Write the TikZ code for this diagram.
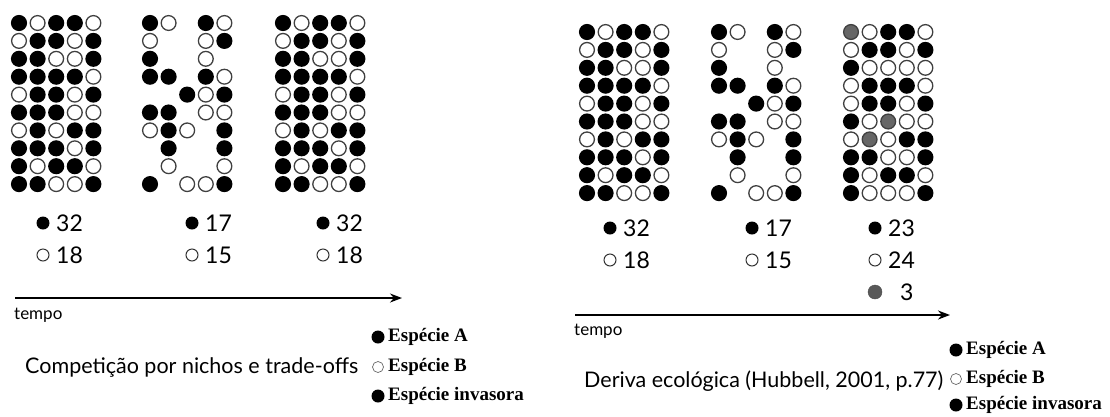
\documentclass[tikz,border=0pt]{standalone}
\usepackage{fontspec}
\usepackage{tikz}
\usetikzlibrary{arrows.meta,calc}
\newfontfamily\gill{Lato}
\newfontfamily\tnr{Liberation Serif}

% parcelas: 1 = especie A, 0 = especie B, 2 = invasora, 3 = vazio
\newcommand\nichoA{{1,0,1,1,0},{0,1,1,0,1},{1,1,0,0,1},{1,1,1,1,0},{0,1,1,0,1},
  {1,1,1,0,0},{0,1,0,1,1},{1,1,1,0,1},{1,0,1,1,0},{1,1,0,0,1}}
\newcommand\nichoB{{1,0,3,1,0},{0,3,3,0,1},{1,3,3,0,3},{1,1,3,1,0},{3,3,1,0,1},
  {1,1,3,0,0},{0,1,0,3,1},{3,1,3,3,1},{3,0,3,3,0},{1,3,0,0,1}}
\newcommand\derivaC{{2,0,1,1,0},{0,1,1,0,1},{1,0,0,0,0},{0,1,1,1,0},{0,1,1,0,1},
  {1,0,2,0,0},{0,2,0,1,1},{1,1,0,0,1},{1,0,1,1,0},{1,0,0,0,1}}

\tikzset{
  ind0/.style = {draw=black!75, fill=white, line width=1.3pt},
  ind1/.style = {draw=black, fill=black, line width=1.3pt},
  ind2/.style = {draw=black!75, fill=black!60, line width=1.3pt},
  ind3/.style = {draw=none, fill=none},
  pics/parcela/.style = {
    code = {
    \foreach \linha [count=\j] in #1
      \foreach \cel [count=\i] in \linha {
        \path[ind\cel] ({(\i-1)*18.6},{(\j-1)*17.9}) circle[radius=7.4pt];
      }
    }
  },
  pto1/.style = {circle, fill=black, inner sep=0pt, minimum size=13pt},
  pto0/.style = {circle, draw=black!80, line width=1pt, fill=white, inner sep=0pt, minimum size=12pt},
  pto2/.style = {circle, draw=black!70, fill=black!65, inner sep=0pt, minimum size=14pt},
  cont/.style = {anchor=west, inner sep=0pt, font=\gill\fontsize{23}{27}\selectfont},
  rot/.style = {anchor=west, inner sep=0pt, font=\gill\fontsize{17}{20}\selectfont},
  titulo/.style = {anchor=west, inner sep=0pt, font=\gill\fontsize{21.5}{25}\selectfont},
  leg/.style = {anchor=west, inner sep=0pt, font=\tnr\bfseries\fontsize{19}{22}\selectfont},
  lA/.style = {circle, fill=black, inner sep=0pt, minimum size=13pt},
  lB/.style = {circle, draw=black!60, line width=0.7pt, inner sep=0pt, minimum size=11pt},
  seta/.style = {line width=1.7pt, -{Stealth[length=12pt,width=9pt]}}
}

\begin{document}
\begin{tikzpicture}[x=1pt,y=-1pt]
\useasboundingbox (0,0) rectangle (1110,416);

% competicao por nichos
\pic at (19,23) {parcela=\nichoA};
\pic at (150,23) {parcela=\nichoB};
\pic at (283,23) {parcela=\nichoA};

\node[pto1] (a1) at (43,223) {};
\node[pto0] (b1) at (43,255) {};
\node[cont] (na1) at (56,223) {32};
\node[cont] (nb1) at (56,255) {18};
\node[pto1] (a2) at (192,223) {};
\node[pto0] (b2) at (192,255) {};
\node[cont] (na2) at (205,223) {17};
\node[cont] (nb2) at (205,255) {15};
\node[pto1] (a3) at (323,223) {};
\node[pto0] (b3) at (323,255) {};
\node[cont] (na3) at (336,223) {32};
\node[cont] (nb3) at (336,255) {18};

\coordinate (t0) at (15,298);
\coordinate (t1) at (402,298);
\draw[seta] (t0) -- (t1);
\node[rot] (tempo1) at (14,315) {tempo};
\node[titulo] (tit1) at (25,367) {Competição por nichos e trade-offs};

\node[lA] (lA1) at (378,337) {};
\node[lB] (lB1) at (378,367) {};
\node[lA] (lC1) at (378,396) {};
\node[leg] (eA1) at (388,337) {Espécie A};
\node[leg] (eB1) at (388,367) {Espécie B};
\node[leg] (eC1) at (388,396) {Espécie invasora};

% deriva ecologica
\pic at (587,32) {parcela=\nichoA};
\pic at (719,32) {parcela=\nichoB};
\pic at (851,32) {parcela=\derivaC};

\node[pto1] (a4) at (610,228) {};
\node[pto0] (b4) at (610,260) {};
\node[cont] (na4) at (623,228) {32};
\node[cont] (nb4) at (623,260) {18};
\node[pto1] (a5) at (752,228) {};
\node[pto0] (b5) at (752,260) {};
\node[cont] (na5) at (765,228) {17};
\node[cont] (nb5) at (765,260) {15};
\node[pto1] (a6) at (875,228) {};
\node[pto0] (b6) at (875,260) {};
\node[pto2] (c6) at (875,292) {};
\node[cont] (na6) at (888,228) {23};
\node[cont] (nb6) at (888,260) {24};
\node[cont] (nc6) at (900,292) {3};

\coordinate (t2) at (575,315);
\coordinate (t3) at (950,315);
\draw[seta] (t2) -- (t3);
\node[rot] (tempo2) at (574,331) {tempo};
\node[titulo] (tit2) at (584,381) {Deriva ecológica (Hubbell, 2001, p.77)};

\node[lA] (lA2) at (956,350) {};
\node[lB] (lB2) at (956,379) {};
\node[lA] (lC2) at (956,405) {};
\node[leg] (eA2) at (966,350) {Espécie A};
\node[leg] (eB2) at (966,379) {Espécie B};
\node[leg] (eC2) at (966,405) {Espécie invasora};

\end{tikzpicture}
\end{document}
